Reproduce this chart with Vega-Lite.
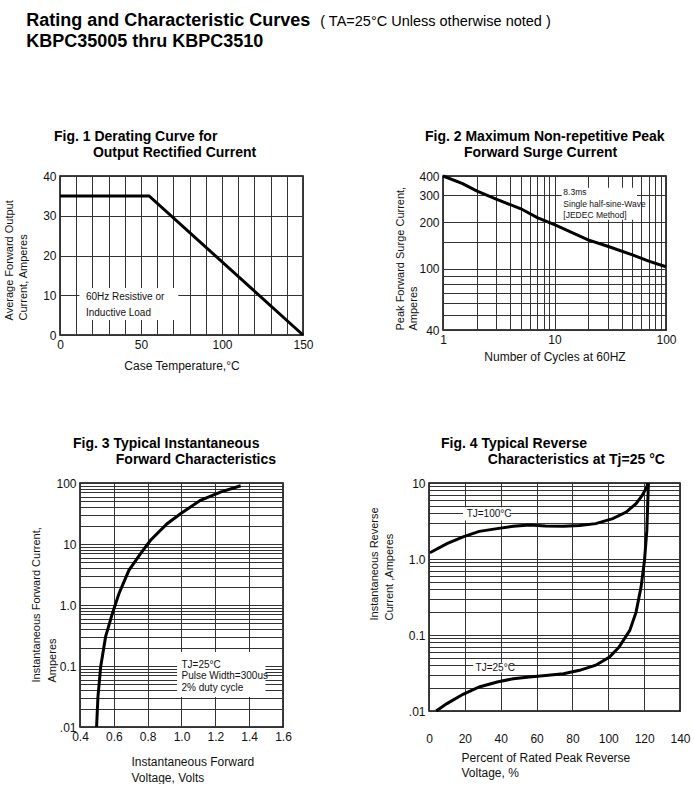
{
  "$schema": "https://vega.github.io/schema/vega-lite/v6.json",
  "background": "white",
  "padding": {"left": 2, "top": 12, "right": 0, "bottom": 0},
  "config": {
    "font": "Liberation Sans",
    "view": {"stroke": "#000", "strokeWidth": 1.5},
    "axis": {"grid": true, "gridColor": "#333", "gridWidth": 1, "gridOpacity": 1, "domain": false, "ticks": false,
      "labelFont": "Liberation Sans", "labelFontSize": 12, "labelColor": "#111", "labelPadding": 4, "labelFlush": false, "labelOverlap": false,
      "titleFont": "Liberation Sans", "titleFontSize": 11, "titleFontWeight": "normal", "titleColor": "#111"},
    "title": {"font": "Liberation Sans", "color": "#000"}
  },
  "datasets": {
    "fig1": [{"temp": 0, "current": 35}, {"temp": 55, "current": 35}, {"temp": 150, "current": 0}],
    "fig1Box": [{"temp": 12, "temp_end": 73, "current": 3.8, "current_end": 11.8}],
    "fig1Note": [{"temp": 16, "current": 9.6, "note": "60Hz Resistive or"}, {"temp": 16, "current": 5.6, "note": "Inductive Load"}],
    "fig2": [{"cycles": 1, "surge": 400}, {"cycles": 1.5, "surge": 357}, {"cycles": 2, "surge": 320}, {"cycles": 3, "surge": 283}, {"cycles": 5, "surge": 245}, {"cycles": 7, "surge": 215}, {"cycles": 10, "surge": 193}, {"cycles": 20, "surge": 154}, {"cycles": 30, "surge": 140}, {"cycles": 50, "surge": 123}, {"cycles": 70, "surge": 112}, {"cycles": 100, "surge": 103}],
    "fig2Box": [{"cycles": 11.6, "cycles_end": 55, "surge": 208, "surge_end": 336}],
    "fig2Note": [{"cycles": 12, "surge": 315, "note": "8.3ms"}, {"cycles": 12, "surge": 263, "note": "Single half-sine-Wave"}, {"cycles": 12, "surge": 222, "note": "[JEDEC Method]"}],
    "fig3": [{"volts": 0.498, "amps": 0.01}, {"volts": 0.506, "amps": 0.031}, {"volts": 0.522, "amps": 0.096}, {"volts": 0.551, "amps": 0.3}, {"volts": 0.591, "amps": 0.72}, {"volts": 0.63, "amps": 1.53}, {"volts": 0.689, "amps": 3.7}, {"volts": 0.758, "amps": 6.95}, {"volts": 0.817, "amps": 11.5}, {"volts": 0.915, "amps": 21.5}, {"volts": 0.994, "amps": 31.4}, {"volts": 1.112, "amps": 52}, {"volts": 1.23, "amps": 71}, {"volts": 1.35, "amps": 90}],
    "fig3Box": [{"volts": 0.974, "volts_end": 1.496, "amps": 0.031, "amps_end": 0.17}],
    "fig3Note": [{"volts": 1.0, "amps": 0.1025, "note": "TJ=25°C"}, {"volts": 1.0, "amps": 0.0676, "note": "Pulse Width=300us"}, {"volts": 1.0, "amps": 0.0437, "note": "2% duty cycle"}],
    "fig4": [
      {"series": "100C", "pct": 0.5, "amps": 1.21}, {"series": "100C", "pct": 10, "amps": 1.59}, {"series": "100C", "pct": 19, "amps": 1.95}, {"series": "100C", "pct": 28, "amps": 2.31}, {"series": "100C", "pct": 38, "amps": 2.51}, {"series": "100C", "pct": 47, "amps": 2.69}, {"series": "100C", "pct": 56, "amps": 2.8}, {"series": "100C", "pct": 65, "amps": 2.72}, {"series": "100C", "pct": 75, "amps": 2.69}, {"series": "100C", "pct": 84, "amps": 2.75}, {"series": "100C", "pct": 93, "amps": 2.92}, {"series": "100C", "pct": 102.5, "amps": 3.4}, {"series": "100C", "pct": 110, "amps": 4.15}, {"series": "100C", "pct": 115.5, "amps": 5.35}, {"series": "100C", "pct": 119, "amps": 6.9}, {"series": "100C", "pct": 121.5, "amps": 8.85}, {"series": "100C", "pct": 122, "amps": 10},
      {"series": "25C", "pct": 4, "amps": 0.01}, {"series": "25C", "pct": 10, "amps": 0.0125}, {"series": "25C", "pct": 19, "amps": 0.0166}, {"series": "25C", "pct": 28, "amps": 0.0207}, {"series": "25C", "pct": 38, "amps": 0.0241}, {"series": "25C", "pct": 47, "amps": 0.0266}, {"series": "25C", "pct": 56, "amps": 0.028}, {"series": "25C", "pct": 65, "amps": 0.0294}, {"series": "25C", "pct": 75, "amps": 0.031}, {"series": "25C", "pct": 84, "amps": 0.0343}, {"series": "25C", "pct": 93, "amps": 0.04}, {"series": "25C", "pct": 100.7, "amps": 0.0513}, {"series": "25C", "pct": 106, "amps": 0.0695}, {"series": "25C", "pct": 112, "amps": 0.115}, {"series": "25C", "pct": 115.5, "amps": 0.2}, {"series": "25C", "pct": 118.3, "amps": 0.43}, {"series": "25C", "pct": 120.2, "amps": 0.96}, {"series": "25C", "pct": 121.5, "amps": 2.38}, {"series": "25C", "pct": 122, "amps": 5.35}, {"series": "25C", "pct": 122.4, "amps": 10}
    ],
    "fig4Box": [{"pct": 19, "pct_end": 45, "amps": 3.2, "amps_end": 4.8}, {"pct": 24.7, "pct_end": 45, "amps": 0.032, "amps_end": 0.043}],
    "fig4Note": [{"pct": 21, "amps": 3.9, "note": "TJ=100°C"}, {"pct": 26, "amps": 0.037, "note": "TJ=25°C"}]
  },
  "title": {"text": "( TA=25°C Unless otherwise noted )", "anchor": "start", "dx": 318, "dy": 17, "offset": 0, "fontSize": 14.5, "fontWeight": "normal"},
  "vconcat": [
    {
      "title": {"text": ["Rating and Characteristic Curves", "KBPC35005 thru KBPC3510"], "anchor": "start", "dx": 24, "offset": 78, "fontSize": 18, "fontWeight": "bold", "lineHeight": 21},
      "spacing": 53,
      "hconcat": [
        {
          "vconcat": [
            {
              "title": {"text": ["Fig. 1 Derating Curve for", "\u200b\u00a0\u00a0\u00a0\u00a0\u00a0\u00a0\u00a0\u00a0\u00a0\u00a0Output Rectified Current"], "anchor": "start", "frame": "group", "dx": -6, "offset": 10, "fontSize": 14, "fontWeight": "bold", "lineHeight": 16},
              "width": 243, "height": 159,
              "encoding": {
                "x": {"field": "temp", "type": "quantitative", "scale": {"domain": [0, 150], "nice": false},
                  "axis": {"title": "Case Temperature,°C", "titleFontSize": 12, "titlePadding": 10, "values": [0, 10, 20, 30, 40, 50, 60, 70, 80, 90, 100, 110, 120, 130, 140, 150], "labelExpr": "datum.value % 50 === 0 ? datum.label : ''"}},
                "y": {"field": "current", "type": "quantitative", "scale": {"domain": [0, 40], "nice": false},
                  "axis": {"title": ["Average Forward Output", "Current, Amperes"], "values": [0, 10, 20, 30, 40], "titleAngle": 270, "titleAlign": "left", "titleBaseline": "top", "titleX": -57, "titleY": 144, "titleLineHeight": 14}}
              },
              "layer": [
                {"data": {"name": "fig1"}, "mark": {"type": "line", "color": "#000", "strokeWidth": 3}},
                {"data": {"name": "fig1Box"}, "mark": {"type": "rect", "fill": "white"},
                  "encoding": {"x2": {"field": "temp_end"}, "y2": {"field": "current_end"}}},
                {"data": {"name": "fig1Note"}, "mark": {"type": "text", "align": "left", "baseline": "middle", "fontSize": 10, "color": "#111"},
                  "encoding": {"text": {"field": "note"}}}
              ]
            },
            {
              "title": {"text": ["Fig. 3 Typical Instantaneous", "\u200b\u00a0\u00a0\u00a0\u00a0\u00a0\u00a0\u00a0\u00a0\u00a0\u00a0\u00a0Forward Characteristics"], "anchor": "start", "frame": "group", "dx": -7, "offset": 10, "fontSize": 14, "fontWeight": "bold", "lineHeight": 16},
              "width": 203, "height": 244,
              "encoding": {
                "x": {"field": "volts", "type": "quantitative", "scale": {"domain": [0.4, 1.6], "nice": false},
                  "axis": {"title": ["Instantaneous Forward", "Voltage, Volts"], "titleFontSize": 12, "titleAlign": "left", "titleX": 51, "titleBaseline": "top", "titlePadding": 14, "titleLineHeight": 16, "values": [0.4, 0.6, 0.8, 1.0, 1.2, 1.4, 1.6], "format": ".1f"}},
                "y": {"field": "amps", "type": "quantitative", "scale": {"type": "log", "domain": [0.01, 100], "nice": false},
                  "axis": {"title": ["Instantaneous Forward Current,", "Amperes"], "values": [0.01, 0.02, 0.03, 0.04, 0.05, 0.06, 0.07, 0.08, 0.09, 0.1, 0.2, 0.3, 0.4, 0.5, 0.6, 0.7, 0.8, 0.9, 1, 2, 3, 4, 5, 6, 7, 8, 9, 10, 20, 30, 40, 50, 60, 70, 80, 90, 100],
                    "labelExpr": "datum.value === 100 ? '100' : datum.value === 10 ? '10' : datum.value === 1 ? '1.0' : datum.value === 0.1 ? '0.1' : datum.value === 0.01 ? '.01' : ''",
                    "titleAngle": 270, "titleAlign": "left", "titleBaseline": "top", "titleX": -50, "titleY": 199, "titleLineHeight": 16}}
              },
              "layer": [
                {"data": {"name": "fig3"}, "mark": {"type": "line", "color": "#000", "strokeWidth": 3}},
                {"data": {"name": "fig3Box"}, "mark": {"type": "rect", "fill": "white"},
                  "encoding": {"x2": {"field": "volts_end"}, "y2": {"field": "amps_end"}}},
                {"data": {"name": "fig3Note"}, "mark": {"type": "text", "align": "left", "baseline": "middle", "fontSize": 10, "color": "#111"},
                  "encoding": {"text": {"field": "note"}}}
              ]
            }
          ],
          "bounds": "flush", "center": true, "spacing": 148
        },
        {
          "vconcat": [
            {
              "title": {"text": ["Fig. 2 Maximum Non-repetitive Peak", "\u200b\u00a0\u00a0\u00a0\u00a0\u00a0\u00a0\u00a0\u00a0\u00a0\u00a0Forward Surge Current"], "anchor": "start", "frame": "group", "dx": -18, "offset": 10, "fontSize": 14, "fontWeight": "bold", "lineHeight": 16},
              "width": 223, "height": 154,
              "encoding": {
                "x": {"field": "cycles", "type": "quantitative", "scale": {"type": "log", "domain": [1, 100], "nice": false},
                  "axis": {"title": "Number of Cycles at 60HZ", "titleFontSize": 12, "titlePadding": 6, "values": [1, 2, 3, 4, 5, 6, 7, 8, 9, 10, 20, 30, 40, 50, 60, 70, 80, 90, 100], "labelExpr": "indexof([1, 10, 100], datum.value) >= 0 ? format(datum.value, 'd') : ''"}},
                "y": {"field": "surge", "type": "quantitative", "scale": {"type": "log", "domain": [40, 400], "nice": false},
                  "axis": {"title": ["Peak Forward Surge Current,", "Amperes"], "values": [40, 50, 60, 70, 80, 90, 100, 150, 200, 300, 400], "labelExpr": "indexof([40, 100, 200, 300, 400], datum.value) >= 0 ? format(datum.value, 'd') : ''",
                    "titleAngle": 270, "titleAlign": "left", "titleBaseline": "top", "titleX": -49, "titleY": 154, "titleLineHeight": 13}}
              },
              "layer": [
                {"data": {"name": "fig2"}, "mark": {"type": "line", "color": "#000", "strokeWidth": 3}},
                {"data": {"name": "fig2Box"}, "mark": {"type": "rect", "fill": "white"},
                  "encoding": {"x2": {"field": "cycles_end"}, "y2": {"field": "surge_end"}}},
                {"data": {"name": "fig2Note"}, "mark": {"type": "text", "align": "left", "baseline": "middle", "fontSize": 8.5, "color": "#111"},
                  "encoding": {"text": {"field": "note"}}}
              ]
            },
            {
              "title": {"text": ["Fig. 4 Typical Reverse", "\u200b\u00a0\u00a0\u00a0\u00a0\u00a0\u00a0\u00a0\u00a0\u00a0\u00a0\u00a0\u00a0Characteristics at Tj=25 °C"], "anchor": "start", "frame": "group", "dx": 12, "offset": 10, "fontSize": 14, "fontWeight": "bold", "lineHeight": 16},
              "width": 251, "height": 228,
              "encoding": {
                "x": {"field": "pct", "type": "quantitative", "scale": {"domain": [0, 140], "nice": false},
                  "axis": {"title": ["Percent of Rated Peak Reverse", "Voltage, %"], "titleFontSize": 12, "titleAlign": "left", "titleX": 32, "titleBaseline": "top", "titlePadding": 8, "titleLineHeight": 15, "labelPadding": 22, "values": [0, 20, 40, 60, 80, 100, 120, 140]}},
                "y": {"field": "amps", "type": "quantitative", "scale": {"type": "log", "domain": [0.01, 10], "nice": false},
                  "axis": {"title": ["Instantaneous Reverse", "Current ,Amperes"], "values": [0.01, 0.02, 0.03, 0.04, 0.05, 0.06, 0.07, 0.08, 0.09, 0.1, 0.2, 0.3, 0.4, 0.5, 0.6, 0.7, 0.8, 0.9, 1, 2, 3, 4, 5, 6, 7, 8, 9, 10],
                    "labelExpr": "datum.value === 10 ? '10' : datum.value === 1 ? '1.0' : datum.value === 0.1 ? '0.1' : datum.value === 0.01 ? '.01' : ''",
                    "titleAngle": 270, "titleAlign": "left", "titleBaseline": "top", "titleX": -61, "titleY": 137, "titleLineHeight": 15}}
              },
              "layer": [
                {"data": {"name": "fig4"}, "mark": {"type": "line", "color": "#000", "strokeWidth": 3},
                  "encoding": {"detail": {"field": "series", "type": "nominal"}}},
                {"data": {"name": "fig4Box"}, "mark": {"type": "rect", "fill": "white"},
                  "encoding": {"x2": {"field": "pct_end"}, "y2": {"field": "amps_end"}}},
                {"data": {"name": "fig4Note"}, "mark": {"type": "text", "align": "left", "baseline": "middle", "fontSize": 10, "color": "#111"},
                  "encoding": {"text": {"field": "note"}}}
              ]
            }
          ],
          "bounds": "flush", "center": true, "spacing": 153
        }
      ]
    }
  ]
}
